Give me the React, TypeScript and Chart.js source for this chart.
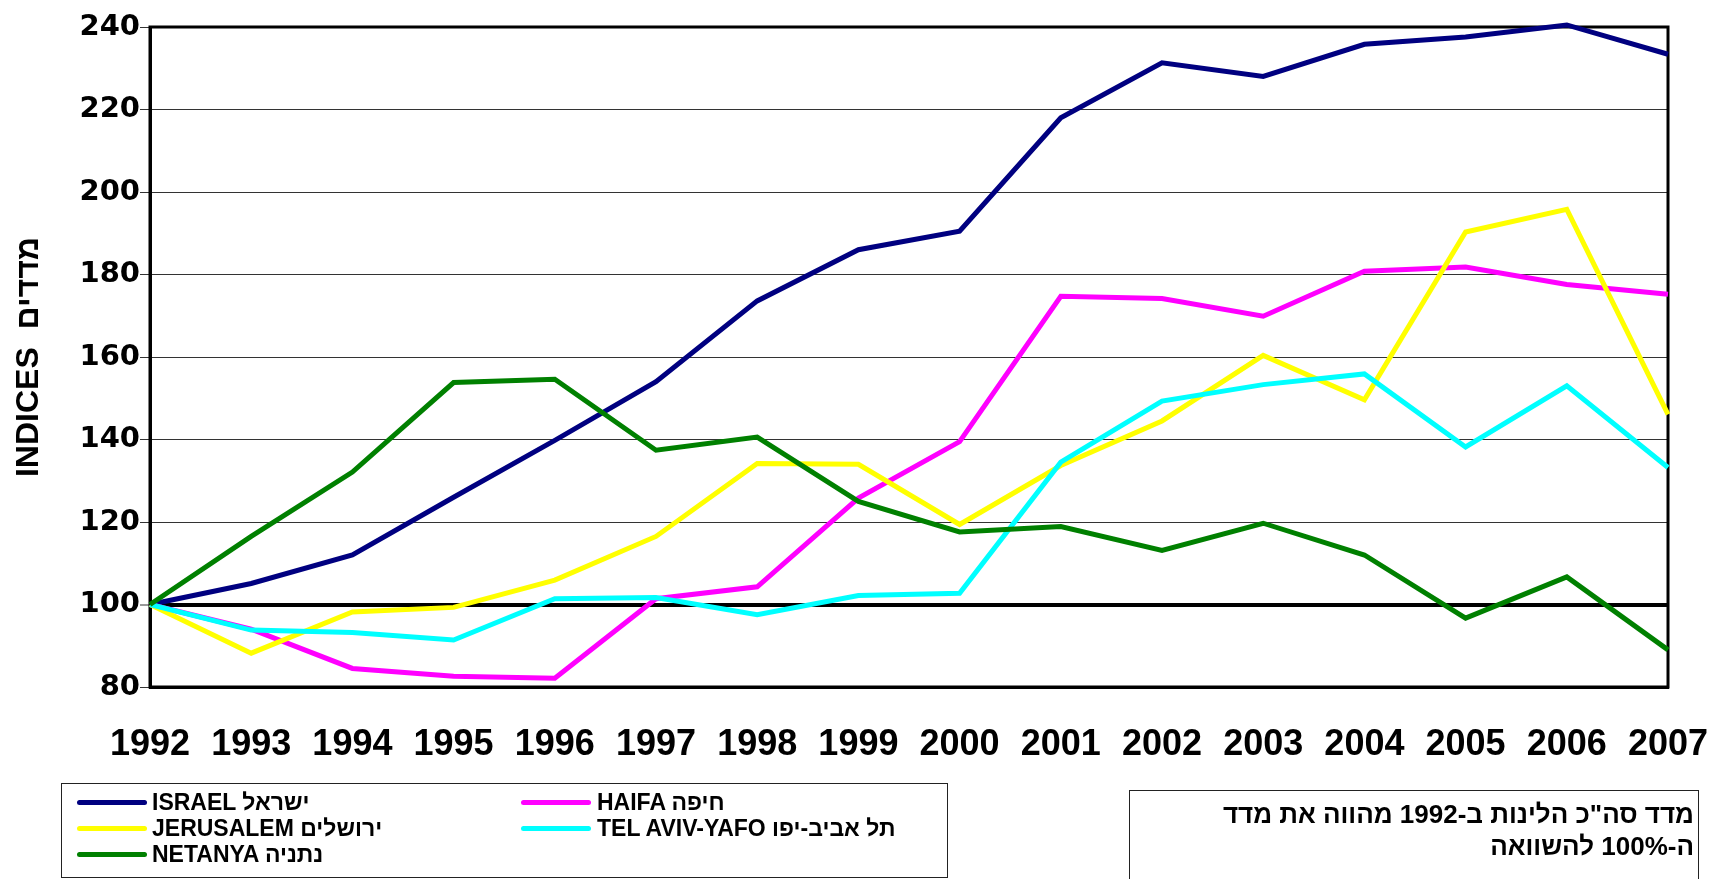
import React, { useEffect, useRef } from 'react';
import { Chart, registerables } from 'chart.js';

Chart.register(...registerables);

const years = ['1992', '1993', '1994', '1995', '1996', '1997', '1998', '1999', '2000', '2001', '2002', '2003', '2004', '2005', '2006', '2007'];
const israel = [100, 105.1, 112, 126, 139.8, 154, 173.6, 186, 190.5, 218, 231.3, 228, 235.8, 237.6, 240.5, 233.4];
const haifa = [100, 94, 84.5, 82.6, 82.1, 101.4, 104.3, 125.8, 139.5, 174.7, 174.2, 169.9, 180.8, 181.8, 177.6, 175.2];
const jerusalem = [100, 88.2, 98.2, 99.3, 105.9, 116.5, 134.2, 134, 119.4, 133.7, 144.5, 160.4, 149.6, 190.3, 195.8, 146.1];
const telAviv = [100, 93.8, 93.2, 91.4, 101.4, 101.7, 97.5, 102.2, 102.7, 134.5, 149.3, 153.3, 155.9, 138.2, 153, 133.2];
const netanya = [100, 116.5, 132.1, 153.8, 154.6, 137.4, 140.6, 125, 117.6, 118.9, 113.1, 119.7, 112, 96.7, 106.7, 89];

const seriesNames = ['ISRAEL ישראל', 'HAIFA חיפה', 'JERUSALEM ירושלים', 'TEL AVIV-YAFO תל אביב-יפו', 'NETANYA נתניה'];
const seriesColors = ['#000080', '#FF00FF', '#FFFF00', '#00FFFF', '#008000'];
const seriesData = [israel, haifa, jerusalem, telAviv, netanya];

const yTitle = 'INDICES  מדדים';
const noteLine1 = 'מדד סה"כ הלינות ב-1992 מהווה את מדד';
const noteLine2 = 'ה-100% להשוואה';

const FONT = '"Liberation Sans", Arial, Helvetica, sans-serif';
const WIDE_FONT = '"DejaVu Sans", "Liberation Sans", Arial, sans-serif';

const framePlugin = {
  id: 'frame',
  beforeDatasetsDraw(chart: any) {
    const { ctx, chartArea } = chart;
    const { left, top, right, bottom } = chartArea;
    ctx.save();
    ctx.strokeStyle = '#000';
    ctx.lineWidth = 3;
    ctx.strokeRect(left, top, right - left, bottom - top);
    ctx.restore();
  },
};

export default function App() {
  const canvasRef = useRef<HTMLCanvasElement | null>(null);

  useEffect(() => {
    document.body.style.margin = '0';
    const canvas = canvasRef.current;
    if (!canvas) return;
    const chart = new Chart(canvas, {
      type: 'line',
      data: {
        labels: years,
        datasets: seriesData.map((d, i) => ({
          label: seriesNames[i],
          data: d,
          borderColor: seriesColors[i],
          backgroundColor: seriesColors[i],
          borderWidth: 5,
          pointRadius: 0,
          tension: 0,
          fill: false,
          clip: false,
          order: 5 - i,
        })),
      },
      options: {
        animation: false,
        responsive: false,
        devicePixelRatio: 1,
        layout: { padding: { top: 27, right: 42, left: 0, bottom: 0 } },
        plugins: {
          legend: { display: false },
          tooltip: { enabled: false },
          title: { display: false },
        },
        scales: {
          x: {
            type: 'category',
            offset: false,
            grid: { display: false, drawTicks: false },
            border: { display: true, color: '#000', width: 3 },
            ticks: {
              autoSkip: false,
              maxRotation: 0,
              minRotation: 0,
              padding: 0,
              color: '#000',
              font: { family: FONT, size: 36, weight: 'bold', lineHeight: 3.25 },
            },
            afterFit: (scale: any) => {
              scale.height = 192;
            },
          },
          y: {
            min: 80,
            max: 240,
            ticks: {
              stepSize: 20,
              padding: 0,
              color: '#000',
              font: { family: WIDE_FONT, size: 29, weight: 'bold' },
            },
            grid: {
              color: (c: any) => (c.tick && c.tick.value === 100 ? '#000' : '#333'),
              lineWidth: (c: any) => (c.tick && c.tick.value === 100 ? 4 : 1),
              tickColor: '#333',
              tickWidth: 1,
              tickLength: 10,
            },
            border: { display: true, color: '#000', width: 3 },
            title: {
              display: true,
              text: yTitle,
              color: '#000',
              font: { family: FONT, size: 32, weight: 'bold' },
              padding: { top: 10, bottom: 0 },
            },
            afterFit: (scale: any) => {
              scale.width = 150;
            },
          },
        },
      },
      plugins: [framePlugin],
    } as any);
    return () => chart.destroy();
  }, []);

  const legendRows = [
    { idx: 0, col: 0, row: 0 },
    { idx: 1, col: 1, row: 0 },
    { idx: 2, col: 0, row: 1 },
    { idx: 3, col: 1, row: 1 },
    { idx: 4, col: 0, row: 2 },
  ];
  const rowY = [802, 828, 854];
  const colLineX = [77, 521];
  const colTextX = [152, 597];

  return (
    <div style={{ position: 'relative', width: 1710, height: 879, overflow: 'hidden', background: '#fff', fontFamily: FONT }}>
      <canvas ref={canvasRef} width={1710} height={879} style={{ position: 'absolute', left: 0, top: 0, width: 1710, height: 879 }} />
      <div style={{ position: 'absolute', left: 61, top: 783, width: 885, height: 93, border: '1px solid #222' }} />
      {legendRows.map((r) => (
        <React.Fragment key={r.idx}>
          <div
            style={{
              position: 'absolute',
              left: colLineX[r.col],
              top: rowY[r.row] - 2.5,
              width: 70,
              height: 5,
              borderRadius: 3,
              background: seriesColors[r.idx],
            }}
          />
          <div
            style={{
              position: 'absolute',
              left: colTextX[r.col],
              top: rowY[r.row] - 13,
              height: 26,
              lineHeight: '26px',
              fontSize: 23,
              fontWeight: 'bold',
              color: '#000',
              whiteSpace: 'nowrap',
              direction: 'ltr',
            }}
          >
            {seriesNames[r.idx]}
          </div>
        </React.Fragment>
      ))}
      <div style={{ position: 'absolute', left: 1129, top: 790, width: 568, height: 120, border: '1px solid #222' }} />
      {[noteLine1, noteLine2].map((t, i) => (
        <div
          key={i}
          style={{
            position: 'absolute',
            left: 1130,
            width: 564,
            top: 814 + i * 32 - 16,
            height: 32,
            lineHeight: '32px',
            textAlign: 'right',
            fontSize: 26,
            fontWeight: 'bold',
            color: '#000',
            whiteSpace: 'nowrap',
            direction: 'rtl',
          }}
        >
          {t}
        </div>
      ))}
    </div>
  );
}
